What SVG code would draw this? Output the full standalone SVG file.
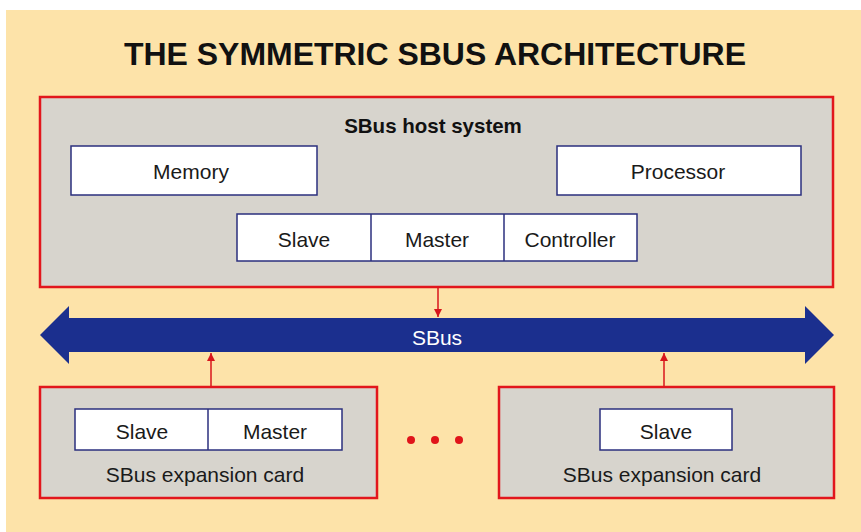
<svg xmlns="http://www.w3.org/2000/svg" width="861" height="532" viewBox="0 0 861 532">
<defs>
<style>
.box{fill:#ffffff;stroke:#2b2f7e;stroke-width:1.5}
.sys{fill:#d7d4cd;stroke:#e2161c;stroke-width:2.5}
.t{font-family:"Liberation Sans",Arial,sans-serif;font-size:21px;fill:#1a1a1a;text-anchor:middle}
.conn{stroke:#d8161c;stroke-width:1.5;fill:none}
</style>
<marker id="ah" viewBox="0 0 10 10" refX="10" refY="5" markerWidth="10" markerHeight="8" markerUnits="userSpaceOnUse" orient="auto">
<path d="M0,0 L10,5 L0,10 Z" fill="#d8161c"/>
</marker>
</defs>
<rect x="0" y="0" width="861" height="532" fill="#ffffff"/>
<rect x="6" y="10" width="855" height="522" fill="#fde3a9"/>
<text x="435" y="65" font-family="'Liberation Sans',Arial,sans-serif" font-weight="bold" font-size="32" text-anchor="middle" textLength="622" lengthAdjust="spacingAndGlyphs" fill="#111">THE SYMMETRIC SBUS ARCHITECTURE</text>

<g id="host">
<rect class="sys" x="40" y="97" width="793" height="190"/>
<text x="433" y="133" font-family="'Liberation Sans',Arial,sans-serif" font-weight="bold" font-size="20.5" text-anchor="middle" fill="#111">SBus host system</text>
</g>
<g id="memory">
<rect class="box" x="71" y="146" width="246" height="49"/>
<text class="t" x="191" y="179">Memory</text>
</g>
<g id="processor">
<rect class="box" x="557" y="146" width="244" height="49"/>
<text class="t" x="678" y="179">Processor</text>
</g>
<g id="host-interface">
<rect class="box" x="237" y="214" width="400" height="47"/>
<line class="box" x1="371" y1="214" x2="371" y2="261"/>
<line class="box" x1="504" y1="214" x2="504" y2="261"/>
<text class="t" x="304" y="247">Slave</text>
<text class="t" x="437" y="247">Master</text>
<text class="t" x="570" y="247">Controller</text>
</g>

<g id="sbus">
<path d="M40,335 L69,306 L69,318 L805,318 L805,306 L834,335 L805,364 L805,352 L69,352 L69,364 Z" fill="#1b2f8e"/>
<text x="437" y="345" font-family="'Liberation Sans',Arial,sans-serif" font-size="21" text-anchor="middle" fill="#ffffff">SBus</text>
</g>

<g id="card1">
<rect class="sys" x="40" y="387" width="337" height="111"/>
<rect class="box" x="75" y="409" width="267" height="41"/>
<line class="box" x1="208" y1="409" x2="208" y2="450"/>
<text class="t" x="142" y="439">Slave</text>
<text class="t" x="275" y="439">Master</text>
<text class="t" x="205" y="482">SBus expansion card</text>
</g>

<g id="dots" fill="#e0141a">
<circle cx="411" cy="440" r="4"/>
<circle cx="435" cy="440" r="4"/>
<circle cx="459" cy="440" r="4"/>
</g>

<g id="card2">
<rect class="sys" x="499" y="387" width="335" height="111"/>
<rect class="box" x="600" y="409" width="132" height="41"/>
<text class="t" x="666" y="439">Slave</text>
<text class="t" x="662" y="482">SBus expansion card</text>
</g>

<g id="connectors">
<line class="conn" x1="438" y1="288" x2="438" y2="317" marker-end="url(#ah)"/>
<line class="conn" x1="211" y1="386" x2="211" y2="353" marker-end="url(#ah)"/>
<line class="conn" x1="664" y1="386" x2="664" y2="353" marker-end="url(#ah)"/>
</g>
</svg>
